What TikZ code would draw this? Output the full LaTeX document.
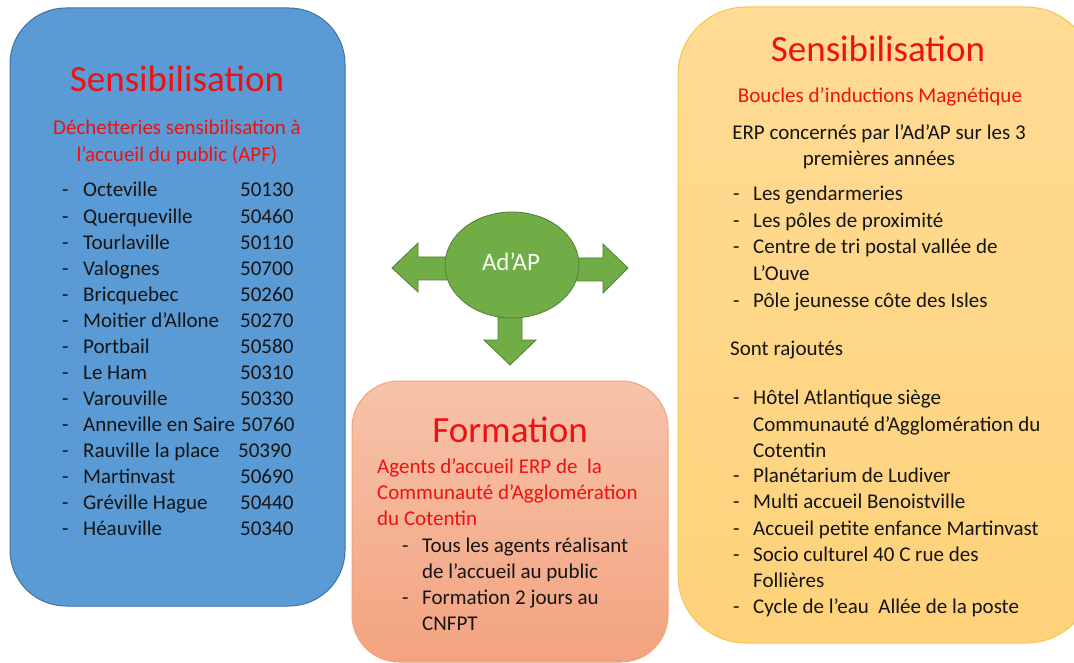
\documentclass[tikz,border=0pt]{standalone}
\usepackage{fontspec}
\setmainfont{Carlito}
\definecolor{boxblue}{HTML}{5B9BD5}
\definecolor{boxblueline}{HTML}{41719C}
\definecolor{peachtop}{HTML}{F6C3AA}
\definecolor{peachbot}{HTML}{F3A380}
\definecolor{peachline}{HTML}{F0A575}
\definecolor{goldtop}{HTML}{FFDB95}
\definecolor{goldbot}{HTML}{FED27A}
\definecolor{goldline}{HTML}{F5C551}
\definecolor{leaf}{HTML}{70AD47}
\definecolor{leafline}{HTML}{507E32}
\definecolor{headred}{HTML}{EE1111}
\definecolor{ink}{HTML}{151515}

\tikzset{
  headline/.style={font=\fontsize{37}{40}\selectfont, text=headred, anchor=base, inner sep=0pt},
  subline/.style={font=\fontsize{21}{26}\selectfont, text=headred, anchor=base, inner sep=0pt},
  plainline/.style={font=\fontsize{21}{26}\selectfont, text=ink, anchor=base, inner sep=0pt},
  entry/.style={font=\fontsize{21}{26}\selectfont, text=ink, anchor=base west, inner sep=0pt},
  bigarrow/.style={fill=leaf, draw=leafline, line width=0.8pt, line join=miter},
}

\begin{document}
\begin{tikzpicture}[x=1pt,y=-1pt]
\useasboundingbox (0,0) rectangle (1074,663);

% --- left panel: awareness at recycling centres
\path[fill=boxblue, draw=boxblueline, line width=1pt, rounded corners=56pt]
  (10,8) rectangle (345,606);
\node[headline] (bt) at (177,92) {Sensibilisation};
\node[subline] (bs1) at (177,135) {Déchetteries sensibilisation à};
\node[subline] (bs2) at (177,162) {l’accueil du public (APF)};
\foreach \town/\code/\cx [count=\i from 0] in {
  Octeville/50130/240, Querqueville/50460/240, Tourlaville/50110/240,
  Valognes/50700/240, Bricquebec/50260/240, Moitier d’Allone/50270/240,
  Portbail/50580/240, Le Ham/50310/240, Varouville/50330/240,
  Anneville en Saire/50760/241, Rauville la place/50390/238,
  Martinvast/50690/240, Gréville Hague/50440/240, Héauville/50340/240}{
  \node[entry] (bd\i) at (62,197+26.07*\i) {-};
  \node[entry] (bn\i) at (83,197+26.07*\i) {\town};
  \node[entry] (bc\i) at (\cx,197+26.07*\i) {\code};
}

% --- right panel: induction loops
\path[top color=goldtop, bottom color=goldbot, draw=goldline, line width=1pt,
  rounded corners=68pt] (678,7) rectangle (1094,643);
\node[headline] (yt) at (878,62) {Sensibilisation};
\node[subline] (ys) at (880,103) {Boucles d’inductions Magnétique};
\node[plainline] (yp1) at (879,140) {ERP concernés par l’Ad’AP sur les 3};
\node[plainline] (yp2) at (879,166) {premières années};
\foreach \txt/\yy/\dash [count=\i] in {
  Les gendarmeries/201/1, Les pôles de proximité/228/1,
  Centre de tri postal vallée de/254/1, L’Ouve/280/0,
  Pôle jeunesse côte des Isles/307/1,
  Hôtel Atlantique siège/404/1, Communauté d’Agglomération du/431/0,
  Cotentin/457/0, Planétarium de Ludiver/482/1,
  Multi accueil Benoistville/508/1, Accueil petite enfance Martinvast/535/1,
  Socio culturel 40 C rue des/561/1, Follières/587/0,
  Cycle de l’eau\ \ Allée de la poste/613/1}{
  \ifnum\dash=1 \node[entry] (yd\i) at (733,\yy) {-};\fi
  \node[entry] (yi\i) at (753,\yy) {\txt};
}
\node[entry] (yr) at (730,355) {Sont rajoutés};

% --- bottom panel: training
\path[top color=peachtop, bottom color=peachbot, draw=peachline, line width=1pt,
  rounded corners=47pt] (352,381) rectangle (668,662);
\node[headline] (ft) at (510,442) {Formation};
\node[subline, anchor=base west] (fs1) at (377,473) {Agents d’accueil ERP de\ \ la};
\node[subline, anchor=base west] (fs2) at (377,499) {Communauté d’Agglomération};
\node[subline, anchor=base west] (fs3) at (377,525) {du Cotentin};
\foreach \txt/\yy/\dash [count=\i] in {
  Tous les agents réalisant/552/1, de l’accueil au public/578/0,
  Formation 2 jours au/604/1, CNFPT/630/0}{
  \ifnum\dash=1 \node[entry] (fd\i) at (402,\yy) {-};\fi
  \node[entry] (fi\i) at (422,\yy) {\txt};
}

% --- central hub with three block arrows
\path[bigarrow] (392,268) -- (418,243) -- (418,257) -- (480,257)
  -- (480,280) -- (418,280) -- (418,292) -- cycle;
\path[bigarrow] (628,268) -- (603,244) -- (603,258) -- (545,258)
  -- (545,281) -- (603,281) -- (603,293) -- cycle;
\path[bigarrow] (510,365) -- (484,340) -- (498,340) -- (498,300)
  -- (522,300) -- (522,340) -- (536,340) -- cycle;
\path[fill=leaf, draw=leafline, line width=0.8pt] (512,265) ellipse [x radius=67, y radius=53];
\node[font=\fontsize{25}{28}\selectfont, text=white!95!leaf, anchor=base, inner sep=0pt]
  (hub) at (511,270) {Ad’AP};
\end{tikzpicture}
\end{document}
